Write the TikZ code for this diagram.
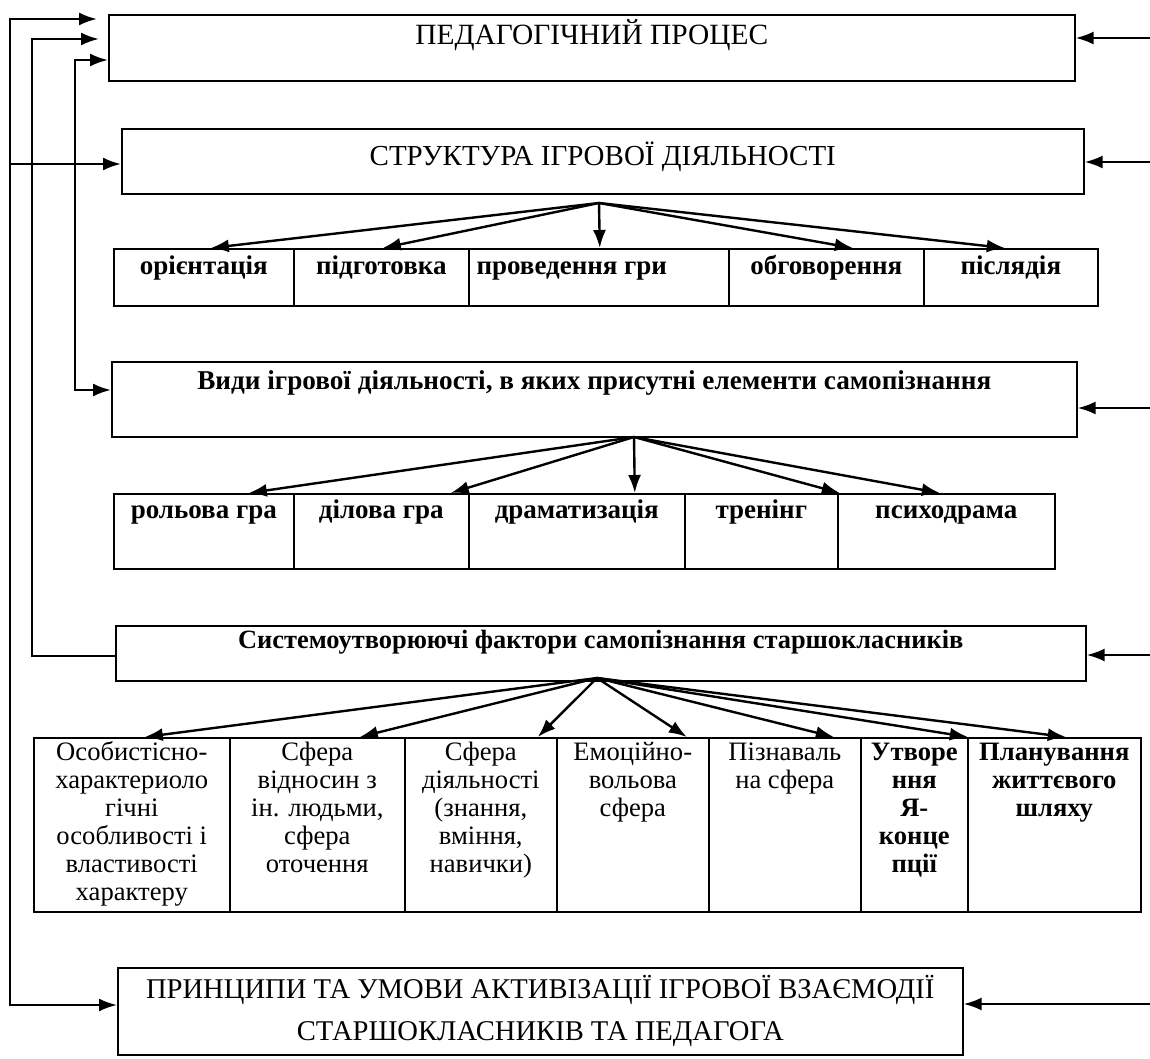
\documentclass[tikz,border=0pt]{standalone}
\usepackage{fontspec}
\setmainfont{Liberation Serif}
\usetikzlibrary{arrows.meta,calc}

\newcommand\factortext[2]{\parbox[t][87pt][t]{#1}{\centering\vspace*{1.5pt}\strut #2}}

\tikzset{
	box/.style={draw,line width=.8pt,inner sep=0pt,anchor=north west,
		font=\fontsize{13}{15}\selectfont},
	cell/.style={box,font=\fontsize{13.5}{15}\selectfont\bfseries},
	factor/.style={box,font=\fontsize{13.3}{14}\selectfont},
	tip/.style={line width=1.2pt,-{Latex[length=9pt,width=6.5pt]}},
	backtip/.style={line width=1.2pt,{Latex[length=9pt,width=6.5pt]}-},
	twotip/.style={line width=1.2pt,{Latex[length=9pt,width=6.5pt]}-{Latex[length=9pt,width=6.5pt]}},
}

\begin{document}
\begin{tikzpicture}[x=.5pt,y=-.5pt]
	\useasboundingbox (0,0) rectangle (1150,1059);
	% main boxes
	\node[box,minimum width=483pt,text height=15pt,text depth=18pt,
		font=\fontsize{14.7}{16}\selectfont] (ped) at (108,14) {ПЕДАГОГІЧНИЙ ПРОЦЕС};
	\node[box,minimum width=481pt,text height=18.5pt,text depth=14pt,
		font=\fontsize{14.5}{16}\selectfont] (struct) at (121,128) {СТРУКТУРА ІГРОВОЇ ДІЯЛЬНОСТІ};
	\node[box,minimum width=482.5pt,text height=14pt,text depth=23.5pt,
		font=\fontsize{13.6}{15}\selectfont\bfseries] (kinds) at (111,361)
		{Види ігрової діяльності, в яких присутні елементи самопізнання};
	\node[box,minimum width=485pt,text height=11.5pt,text depth=16pt,
		font=\fontsize{13.2}{15}\selectfont\bfseries] (sys) at (115,625)
		{Системоутворюючі фактори самопізнання старшокласників};
	\node[box,minimum width=422.5pt,minimum height=43.5pt,align=center,
		font=\fontsize{14.3}{16}\selectfont] (princ) at (117,967)
		{ПРИНЦИПИ ТА УМОВИ АКТИВІЗАЦІЇ ІГРОВОЇ ВЗАЄМОДІЇ\\[5pt]СТАРШОКЛАСНИКІВ ТА ПЕДАГОГА};

	% stages of the game
	\foreach \xa/\cw/\txt [count=\ii] in {113/180/орієнтація,293/175/підготовка,
		468/260/проведення гри\hspace*{27pt},728/195/обговорення,923/174/післядія}
	{
		\node[cell,minimum width=\cw*.5pt,text height=13pt,text depth=15.5pt] (st\ii) at (\xa,248) {\txt};
	}
	% kinds of games
	\foreach \xa/\cw/\txt [count=\ii] in {113/180/рольова гра,293/175/ділова гра,
		468/216/драматизація,684/153/тренінг,837/217/психодрама}
	{
		\node[cell,minimum width=\cw*.5pt,text height=12.5pt,text depth=25pt] (kd\ii) at (\xa,493) {\txt};
	}
	% factors
	\node[factor] (f1) at (33,737) {\factortext{98pt}{Особистісно-\\характериоло\\гічні\\особливості і\\властивості\\характеру}};
	\node[factor] (f2) at (229,737) {\factortext{87.5pt}{Сфера\\відносин з\\ін. людьми,\\сфера\\оточення}};
	\node[factor] (f3) at (404,737) {\factortext{76pt}{Сфера\\діяльності\\(знання,\\вміння,\\навички)}};
	\node[factor] (f4) at (556,737) {\factortext{76pt}{Емоційно-\\вольова\\сфера}};
	\node[factor] (f5) at (708,737) {\factortext{76pt}{Пізнаваль\\на сфера}};
	\node[factor,font=\fontsize{13.3}{14}\selectfont\bfseries] (f6) at (860,737) {\factortext{53.5pt}{Утворе\\ння\\Я-\\конце\\пції}};
	\node[factor,font=\fontsize{13.3}{14}\selectfont\bfseries] (f7) at (967,737) {\factortext{86.5pt}{Планування\\життєвого\\шляху}};

	% fans of arrows
	\coordinate (fan1) at (599,203);
	\coordinate (fan2) at (634,437);
	\coordinate (fan3) at (597,678);
	\foreach \tg/\dx in {st1/7,st2/1.5,st3/1,st4/26.5,st5/-6}
		\draw[tip] (fan1) -- ($(\tg.north)+(\dx,0)$);
	\foreach \tg/\dx in {kd1/45,kd2/69.5,kd3/58,kd4/78.5,kd5/-6.5}
		\draw[tip] (fan2) -- ($(\tg.north)+(\dx,0)$);
	\foreach \tg/\dx in {f1/13,f2/42.5,f3/57,f4/54,f5/49,f6/53.5,f7/11.5}
		\draw[tip] (fan3) -- ($(\tg.north)+(\dx,0)$);

	% feedback lines on the left
	\coordinate (la) at (10,19);
	\coordinate (la2) at (10,1005);
	\coordinate (lb) at (32,39);
	\coordinate (lb2) at (32,656);
	\coordinate (lc) at (75,60);
	\coordinate (lc2) at (75,390);
	\coordinate (ld) at (10,164);
	\draw[twotip,shorten <=5.5pt] (la -| ped.west) -- (la) -- (la2) -- (la2 -| princ.west);
	\draw[backtip,shorten <=4.5pt] (lb -| ped.west) -- (lb) -- (lb2) -- (lb2 -| sys.west);
	\draw[twotip] (lc -| ped.west) -- (lc) -- (lc2) -- (lc2 -| kinds.west);
	\draw[tip] (ld) -- (ld -| struct.west);

	% inputs from the right
	\foreach \ra/\yy in {ped/38,struct/162,kinds/408,sys/655,princ/1004}
	{
		\coordinate (r\ra) at (1150,\yy);
		\draw[tip] (r\ra) -- (r\ra -| \ra.east);
	}
\end{tikzpicture}
\end{document}
